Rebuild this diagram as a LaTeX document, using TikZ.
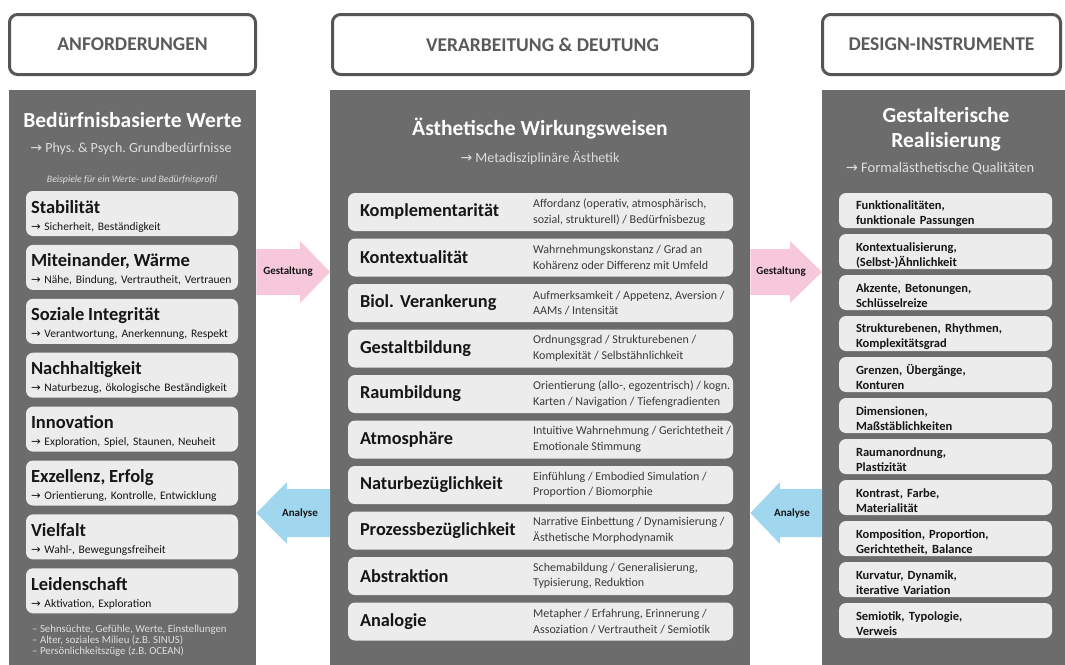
\documentclass[tikz,border=0pt]{standalone}
\usepackage{fontspec}
\setmainfont{Carlito}
\newfontfamily\arrowfont{DejaVu Sans}
\usepackage{tikz}
\usepackage{xcolor}
\usetikzlibrary{calc}
\definecolor{panelgray}{RGB}{108,108,108}
\definecolor{boxgray}{RGB}{236,236,236}
\definecolor{headerline}{RGB}{85,85,85}
\definecolor{headertext}{RGB}{90,90,90}
\definecolor{boxtext}{RGB}{22,22,22}
\definecolor{notetext}{RGB}{58,58,58}
\definecolor{lighttext}{RGB}{222,222,222}
\definecolor{pinkarrow}{RGB}{246,200,218}
\definecolor{bluearrow}{RGB}{160,214,238}
\tikzstyle{header} =
  [ rectangle
  , rounded corners=8pt
  , draw=headerline
  , line width=3pt
  , fill=white
  , minimum width=246pt
  , minimum height=60pt
  , text=headertext
  , font=\fontsize{19.5}{22}\selectfont\bfseries
  ]
\tikzstyle{panel} =
  [ rectangle
  , fill=panelgray
  , inner sep=0pt
  , anchor=north west
  , minimum height=580pt
  ]
\tikzstyle{panel_title} =
  [ anchor=base
  , text=white
  , font=\fontsize{21.5}{24}\selectfont\bfseries
  ]
\tikzstyle{panel_subtitle} =
  [ anchor=base
  , text=lighttext
  , font=\fontsize{14}{16}\selectfont
  ]
\tikzstyle{value_box} =
  [ rectangle
  , rounded corners=7pt
  , fill=boxgray
  , minimum width=212pt
  , minimum height=45pt
  , text width=202pt
  , inner xsep=5pt
  , inner ysep=0pt
  , align=left
  , text=boxtext
  , font=\fontsize{11.5}{13}\selectfont
  ]
\tikzstyle{effect_box} =
  [ rectangle
  , rounded corners=7pt
  , fill=boxgray
  , minimum width=385pt
  , minimum height=38pt
  , text width=361pt
  , inner xsep=12pt
  , inner ysep=0pt
  , align=left
  , text=boxtext
  , font=\fontsize{18.3}{20}\selectfont\bfseries
  ]
\tikzstyle{effect_note} =
  [ anchor=west
  , align=left
  , inner sep=0pt
  , text=notetext
  , font=\fontsize{12}{15.5}\selectfont
  ]
\tikzstyle{quality_box} =
  [ rectangle
  , rounded corners=7pt
  , fill=boxgray
  , minimum width=213pt
  , minimum height=35pt
  , text width=179pt
  , inner xsep=17pt
  , inner ysep=0pt
  , align=left
  , text=boxtext
  , font=\fontsize{12.5}{15}\selectfont\bfseries
  , execute at begin node=\rule{0pt}{16pt}
  ]
\tikzstyle{arrow_label} =
  [ text=boxtext
  , font=\fontsize{11}{13}\selectfont\bfseries
  ]
\def\To{{\arrowfont →}}
\newcommand{\valuetext}[2]{\rule{0pt}{18pt}{\fontsize{18.5}{20}\selectfont\bfseries #1}\\[4pt]\mbox{\To{} #2}}

\begin{document}
\frenchspacing
\begin{tikzpicture}[x=1pt,y=-1pt]
    \useasboundingbox (0,0) rectangle (1065,664);
    \fill[white] (0,0) rectangle (1065,664);

    \node[header] (req_header)    at (132.5,44.5) {ANFORDERUNGEN};
    \node[header, minimum width=420pt] (proc_header)   at (542.5,44.5) {VERARBEITUNG \& DEUTUNG};
    \node[header, minimum width=238pt] (design_header) at (941.5,44.5) {DESIGN-INSTRUMENTE};

    \node[panel, minimum width=247pt] (values_panel)  at (9,90)   {};
    \node[panel, minimum width=420pt] (effects_panel) at (330,90) {};
    \node[panel, minimum width=243pt] (quality_panel) at (822,90) {};

    % Anforderungen
    \node[panel_title]    (values_title) at (132.5,127) {Bedürfnisbasierte Werte};
    \node[panel_subtitle] (values_sub)   at (131,152) {\To{} Phys. \& Psych. Grundbedürfnisse};
    \node[anchor=base, text=lighttext, font=\fontsize{9.8}{11}\selectfont\itshape] (values_hint) at (132,182) {Beispiele für ein Werte- und Bedürfnisprofil};

    \node[value_box] (stability)   at (132,213.5) {\valuetext{Stabilität}{Sicherheit, Beständigkeit}};
    \node[value_box] (togetherness) at (132,267.4) {\valuetext{Miteinander, Wärme}{Nähe, Bindung, Vertrautheit, Vertrauen}};
    \node[value_box] (integrity)   at (132,321.3) {\valuetext{Soziale Integrität}{Verantwortung, Anerkennung, Respekt}};
    \node[value_box] (sustainability) at (132,375.2) {\valuetext{Nachhaltigkeit}{Naturbezug, ökologische Beständigkeit}};
    \node[value_box] (innovation)  at (132,429.1) {\valuetext{Innovation}{Exploration, Spiel, Staunen, Neuheit}};
    \node[value_box] (excellence)  at (132,483)   {\valuetext{Exzellenz, Erfolg}{Orientierung, Kontrolle, Entwicklung}};
    \node[value_box] (diversity)   at (132,536.9) {\valuetext{Vielfalt}{Wahl-, Bewegungsfreiheit}};
    \node[value_box] (passion)     at (132,590.8) {\valuetext{Leidenschaft}{Aktivation, Exploration}};

    \node[anchor=north west, align=left, inner sep=0pt, text=lighttext, font=\fontsize{10.8}{11}\selectfont] (values_notes) at (32,625)
      {-- Sehnsüchte, Gefühle, Werte, Einstellungen\\-- Alter, soziales Milieu (z.B. SINUS)\\-- Persönlichkeitszüge (z.B. OCEAN)};

    % Verarbeitung & Deutung
    \node[panel_title]    (effects_title) at (540,135) {Ästhetische Wirkungsweisen};
    \node[panel_subtitle] (effects_sub)   at (540,162) {\To{} Metadisziplinäre Ästhetik};

    \node[effect_box] (complement) at (540.5,212)   {Komplementarität};
    \node[effect_box] (context)    at (540.5,257.5) {Kontextualität};
    \node[effect_box] (biology)    at (540.5,303)   {Biol. Verankerung};
    \node[effect_box] (gestalt)    at (540.5,348.5) {Gestaltbildung};
    \node[effect_box] (space)      at (540.5,394)   {Raumbildung};
    \node[effect_box] (atmosphere) at (540.5,439.5) {Atmosphäre};
    \node[effect_box] (nature)     at (540.5,485)   {Naturbezüglichkeit};
    \node[effect_box] (process)    at (540.5,530.5) {Prozessbezüglichkeit};
    \node[effect_box] (abstraction) at (540.5,576)  {Abstraktion};
    \node[effect_box] (analogy)    at (540.5,621.5) {Analogie};

    \node[effect_note] (complement_note)  at (533,212)   {Affordanz (operativ, atmosphärisch,\\sozial, strukturell) / Bedürfnisbezug};
    \node[effect_note] (context_note)     at (533,257.5) {Wahrnehmungskonstanz / Grad an\\Kohärenz oder Differenz mit Umfeld};
    \node[effect_note] (biology_note)     at (533,303)   {Aufmerksamkeit / Appetenz, Aversion /\\AAMs / Intensität};
    \node[effect_note] (gestalt_note)     at (533,348.5) {Ordnungsgrad / Strukturebenen /\\Komplexität / Selbstähnlichkeit};
    \node[effect_note] (space_note)       at (533,394)   {Orientierung (allo-, egozentrisch) / kogn.\\Karten / Navigation / Tiefengradienten};
    \node[effect_note] (atmosphere_note)  at (533,439.5) {Intuitive Wahrnehmung / Gerichtetheit /\\Emotionale Stimmung};
    \node[effect_note] (nature_note)      at (533,485)   {Einfühlung / Embodied Simulation /\\Proportion / Biomorphie};
    \node[effect_note] (process_note)     at (533,530.5) {Narrative Einbettung / Dynamisierung /\\Ästhetische Morphodynamik};
    \node[effect_note] (abstraction_note) at (533,576)   {Schemabildung / Generalisierung,\\Typisierung, Reduktion};
    \node[effect_note] (analogy_note)     at (533,621.5) {Metapher / Erfahrung, Erinnerung /\\Assoziation / Vertrautheit / Semiotik};

    % Design-Instrumente
    \node[panel_title] (quality_title)  at (946,122) {Gestalterische};
    \node[panel_title] (quality_title2) at (946,147) {Realisierung};
    \node[panel_subtitle, font=\fontsize{14.5}{16}\selectfont] (quality_sub) at (940,172) {\To{} Formalästhetische Qualitäten};

    \node[quality_box] (functions)   at (945.5,210.5) {Funktionalitäten,\\funktionale Passungen};
    \node[quality_box] (similarity)  at (945.5,251.5) {Kontextualisierung,\\(Selbst-)Ähnlichkeit};
    \node[quality_box] (accents)     at (945.5,292.5) {Akzente, Betonungen,\\Schlüsselreize};
    \node[quality_box] (rhythms)     at (945.5,333.5) {Strukturebenen, Rhythmen,\\Komplexitätsgrad};
    \node[quality_box] (borders)     at (945.5,374.5) {Grenzen, Übergänge,\\Konturen};
    \node[quality_box] (dimensions)  at (945.5,415.5) {Dimensionen,\\Maßstäblichkeiten};
    \node[quality_box] (arrangement) at (945.5,456.5) {Raumanordnung,\\Plastizität};
    \node[quality_box] (material)    at (945.5,497.5) {Kontrast, Farbe,\\Materialität};
    \node[quality_box] (composition) at (945.5,538.5) {Komposition, Proportion,\\Gerichtetheit, Balance};
    \node[quality_box] (curvature)   at (945.5,579.5) {Kurvatur, Dynamik,\\iterative Variation};
    \node[quality_box] (semiotics)   at (945.5,620.5) {Semiotik, Typologie,\\Verweis};

    % Gestaltung / Analyse
    \fill[pinkarrow] (values_panel.east |- 0,249) -- (300,249) -- (300,241) -- (effects_panel.west |- 0,272)
      -- (300,303) -- (300,295) -- (values_panel.east |- 0,295) -- cycle;
    \fill[pinkarrow] (effects_panel.east |- 0,249) -- (790,249) -- (790,241) -- (quality_panel.west |- 0,272)
      -- (790,303) -- (790,295) -- (effects_panel.east |- 0,295) -- cycle;
    \fill[bluearrow] (effects_panel.west |- 0,489) -- (287,489) -- (287,482) -- (values_panel.east |- 0,513)
      -- (287,544) -- (287,537) -- (effects_panel.west |- 0,537) -- cycle;
    \fill[bluearrow] (quality_panel.west |- 0,489) -- (780,489) -- (780,482) -- (effects_panel.east |- 0,513)
      -- (780,544) -- (780,537) -- (quality_panel.west |- 0,537) -- cycle;
    \node[arrow_label] (design_left)    at (288,272) {Gestaltung};
    \node[arrow_label] (design_right)   at (781,272) {Gestaltung};
    \node[arrow_label] (analysis_left)  at (300,513) {Analyse};
    \node[arrow_label] (analysis_right) at (792,513) {Analyse};
\end{tikzpicture}
\end{document}
